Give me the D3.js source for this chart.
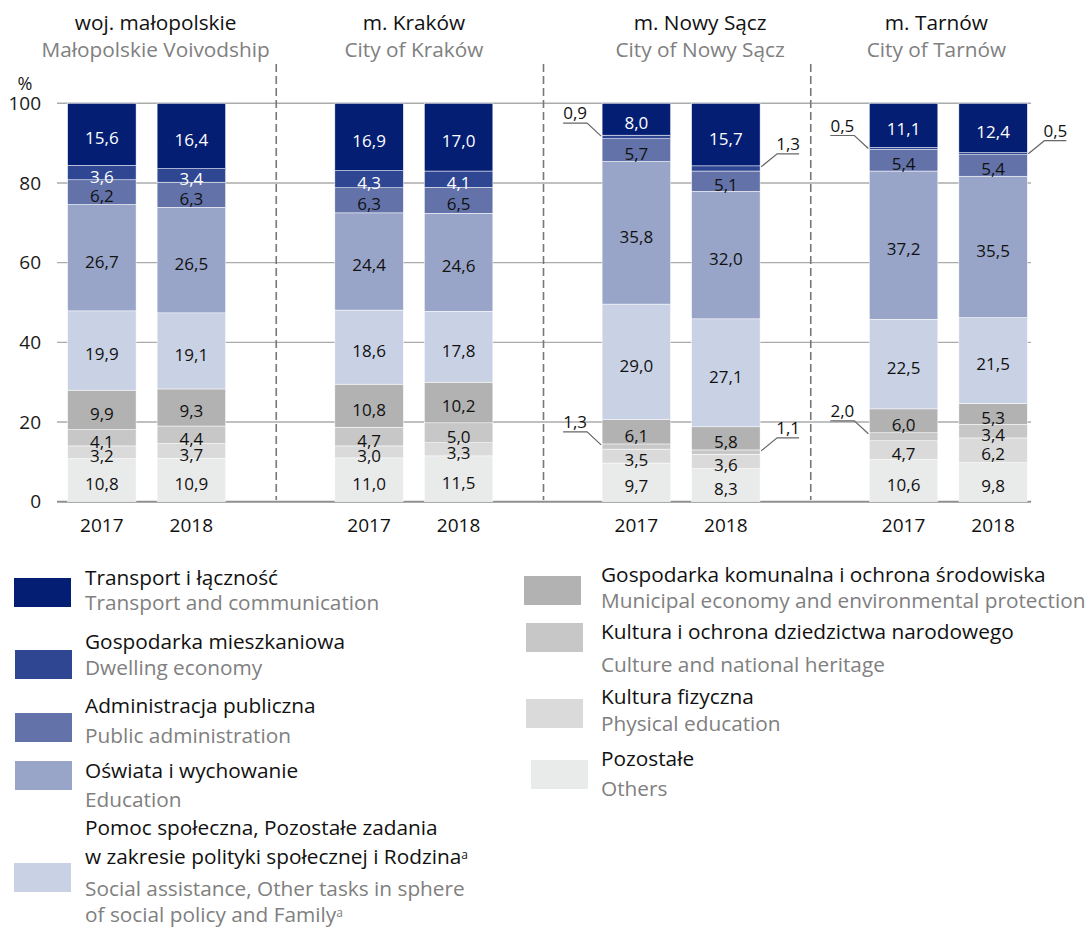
<!DOCTYPE html>
<html>
<head>
<meta charset="utf-8">
<script src="https://cdn.jsdelivr.net/npm/d3@7"></script>
<style>
  body { margin: 0; background: #fff; }
  text { font-family: "Open Sans", sans-serif; }
</style>
</head>
<body>
<div id="chart"></div>
<script>
// regions and years
var regions = ["woj", "krakow", "nowysacz", "tarnow"];
var regionPl = ["woj. małopolskie", "m. Kraków", "m. Nowy Sącz", "m. Tarnów"];
var regionEn = ["Małopolskie Voivodship", "City of Kraków", "City of Nowy Sącz", "City of Tarnów"];
var years = ["2017", "2018"];

// one value per bar: woj 17, woj 18, Kraków 17, Kraków 18, NS 17, NS 18, Tarnów 17, Tarnów 18
var transport   = [15.6, 16.4, 16.9, 17.0, 8.0, 15.7, 11.1, 12.4];
var dwelling    = [3.6, 3.4, 4.3, 4.1, 0.9, 1.3, 0.5, 0.5];
var publicAdmin = [6.2, 6.3, 6.3, 6.5, 5.7, 5.1, 5.4, 5.4];
var education   = [26.7, 26.5, 24.4, 24.6, 35.8, 32.0, 37.2, 35.5];
var social      = [19.9, 19.1, 18.6, 17.8, 29.0, 27.1, 22.5, 21.5];
var municipal   = [9.9, 9.3, 10.8, 10.2, 6.1, 5.8, 6.0, 5.3];
var culture     = [4.1, 4.4, 4.7, 5.0, 1.3, 1.1, 2.0, 3.4];
var physical    = [3.2, 3.7, 3.0, 3.3, 3.5, 3.6, 4.7, 6.2];
var others      = [10.8, 10.9, 11.0, 11.5, 9.7, 8.3, 10.6, 9.8];

var yTicks = [0, 20, 40, 60, 80, 100];

// stacking order bottom -> top
var keys = ["others", "physical", "culture", "municipal", "social", "education", "publicAdmin", "dwelling", "transport"];
var series = {transport: transport, dwelling: dwelling, publicAdmin: publicAdmin, education: education,
  social: social, municipal: municipal, culture: culture, physical: physical, others: others};

var colors = {transport: "#041e74", dwelling: "#2f4692", publicAdmin: "#6373a9", education: "#98a5c8",
  social: "#c9d1e5", municipal: "#b1b2b1", culture: "#c6c7c6", physical: "#d9dad9", others: "#e9eaea"};
var whiteText = {transport: true, dwelling: true};

var legendPl = {
  transport: ["Transport i łączność"],
  dwelling: ["Gospodarka mieszkaniowa"],
  publicAdmin: ["Administracja publiczna"],
  education: ["Oświata i wychowanie"],
  social: ["Pomoc społeczna, Pozostałe zadania", "w zakresie polityki społecznej i Rodzina"],
  municipal: ["Gospodarka komunalna i ochrona środowiska"],
  culture: ["Kultura i ochrona dziedzictwa narodowego"],
  physical: ["Kultura fizyczna"],
  others: ["Pozostałe"]
};
var legendEn = {
  transport: ["Transport and communication"],
  dwelling: ["Dwelling economy"],
  publicAdmin: ["Public administration"],
  education: ["Education"],
  social: ["Social assistance, Other tasks in sphere", "of social policy and Family"],
  municipal: ["Municipal economy and environmental protection"],
  culture: ["Culture and national heritage"],
  physical: ["Physical education"],
  others: ["Others"]
};
var supA = {social: true};

// build rows for the stack
var rows = [];
regions.forEach(function(r, i) {
  years.forEach(function(yr, j) {
    var row = {region: r, year: yr};
    keys.forEach(function(k) { row[k] = series[k][i * 2 + j]; });
    rows.push(row);
  });
});

var width = 1089, height = 928;
var svg = d3.select("#chart").append("svg")
  .attr("width", width)
  .attr("height", height);

var x0 = d3.scaleBand().domain(regions).range([9, 1078]);
var x1 = d3.scaleBand().domain(years).range([58.6, 216.6]).paddingInner(0.235);
var y = d3.scaleLinear().domain([0, 100]).range([501.7, 103.3]);

// gridlines
svg.append("g").selectAll("line")
  .data(yTicks)
  .enter().append("line")
  .attr("x1", 57).attr("x2", 1031)
  .attr("y1", function(d) { return y(d); })
  .attr("y2", function(d) { return y(d); })
  .attr("stroke", function(d) { return d == 0 ? "#8f8f8f" : "#ababab"; })
  .attr("stroke-width", function(d) { return d == 0 ? 2 : 1.4; });

// y labels
svg.append("g").selectAll("text")
  .data(yTicks)
  .enter().append("text")
  .attr("x", 41)
  .attr("y", function(d) { return y(d); })
  .attr("dy", "0.35em")
  .attr("text-anchor", "end")
  .style("font-size", "19px")
  .attr("fill", "#1a1a1a")
  .text(function(d) { return d; });

svg.append("text")
  .attr("x", 25).attr("y", 84).attr("dy", "0.35em")
  .attr("text-anchor", "middle")
  .style("font-size", "18px")
  .attr("fill", "#1a1a1a")
  .text("%");

// dashed dividers between regions
svg.append("g").selectAll("line")
  .data(regions.slice(1))
  .enter().append("line")
  .attr("x1", function(d) { return x0(d); })
  .attr("x2", function(d) { return x0(d); })
  .attr("y1", 64).attr("y2", 500)
  .attr("stroke", "#777")
  .attr("stroke-width", 1.6)
  .attr("stroke-dasharray", "8,4");

// titles
var titleShift = [13, 4, 23, -8];
var titles = svg.append("g");
regions.forEach(function(r, i) {
  var cx = x0(r) + x0.bandwidth() / 2 + titleShift[i];
  titles.append("text")
    .attr("x", cx).attr("y", 23).attr("dy", "0.35em")
    .attr("text-anchor", "middle")
    .style("font-size", "20.8px")
    .attr("fill", "#111")
    .text(regionPl[i]);
  titles.append("text")
    .attr("x", cx).attr("y", 50).attr("dy", "0.35em")
    .attr("text-anchor", "middle")
    .style("font-size", "20.8px")
    .attr("fill", "#808080")
    .text(regionEn[i]);
});

// year labels under bars
svg.append("g").selectAll("text")
  .data(rows)
  .enter().append("text")
  .attr("x", function(d) { return x0(d.region) + x1(d.year) + x1.bandwidth() / 2; })
  .attr("y", 525).attr("dy", "0.35em")
  .attr("text-anchor", "middle")
  .style("font-size", "19px")
  .attr("fill", "#111")
  .text(function(d) { return d.year; });

var stack = d3.stack().keys(keys)(rows);

function barX(d) { return x0(d.data.region) + x1(d.data.year); }

var layers = svg.append("g").selectAll("g")
  .data(stack)
  .enter().append("g")
  .attr("fill", function(d) { return colors[d.key]; });

layers.selectAll("rect")
  .data(function(d) { return d; })
  .enter().append("rect")
  .attr("x", barX)
  .attr("width", x1.bandwidth())
  .attr("y", function(d) { return y(d[1]); })
  .attr("height", function(d) { return y(d[0]) - y(d[1]); })
  .attr("stroke", "#fff")
  .attr("stroke-width", 0.5);

// labels inside / callouts outside
var labels = svg.append("g");
var fmt = function(v) { return v.toFixed(1).replace(".", ","); };

stack.forEach(function(layer) {
  layer.forEach(function(d) {
    var v = d.data[layer.key];
    var bx = barX(d);
    if (v > 2) {
      labels.append("text")
        .attr("x", bx + x1.bandwidth() / 2)
        .attr("y", (y(d[0]) + y(d[1])) / 2 + 4)
        .attr("dy", "0.35em")
        .attr("text-anchor", "middle")
        .style("font-size", "17px")
        .attr("fill", whiteText[layer.key] ? "#fff" : "#111")
        .text(fmt(v));
    } else {
      var left = d.data.year == "2017";
      var ex = left ? bx - 1 : bx + x1.bandwidth() + 1;
      var ey = y(d[1]) + 1;
      var kx = left ? ex - 14 : ex + 16;
      var ky = y(d[1]) - 12;
      var ux = left ? kx - 24 : kx + 22;
      labels.append("polyline")
        .attr("points", [[ex, ey], [kx, ky], [ux, ky]].join(" "))
        .attr("fill", "none")
        .attr("stroke", "#666")
        .attr("stroke-width", 1.2);
      labels.append("text")
        .attr("x", (kx + ux) / 2)
        .attr("y", ky - 4)
        .attr("text-anchor", "middle")
        .style("font-size", "17px")
        .attr("fill", "#111")
        .text(fmt(v));
    }
  });
});

// legend
var legendLeft = ["transport", "dwelling", "publicAdmin", "education", "social"];
var legendRight = ["municipal", "culture", "physical", "others"];
var leftRows = [
  {sx: 14, sy: 578, ty: [578, 603]},
  {sx: 15, sy: 650, ty: [642, 668]},
  {sx: 15, sy: 713, ty: [706, 736]},
  {sx: 15, sy: 761, ty: [771, 800]},
  {sx: 14, sy: 863, ty: [828, 857, 889, 915]}
];
var rightRows = [
  {sx: 524, sy: 576, ty: [575, 601]},
  {sx: 526, sy: 623, ty: [632, 665]},
  {sx: 526, sy: 699, ty: [697, 724]},
  {sx: 531, sy: 760, ty: [759, 789]}
];

function drawLegend(list, pos, tx) {
  var g = svg.append("g");
  list.forEach(function(k, i) {
    var p = pos[i];
    g.append("rect")
      .attr("x", p.sx).attr("y", p.sy)
      .attr("width", 57).attr("height", 29)
      .attr("fill", colors[k]);
    var lines = legendPl[k].map(function(t) { return {t: t, c: "#111"}; })
      .concat(legendEn[k].map(function(t) { return {t: t, c: "#808080"}; }));
    lines.forEach(function(l, j) {
      var t = g.append("text")
        .attr("x", tx).attr("y", p.ty[j]).attr("dy", "0.35em")
        .style("font-size", "20.8px")
        .attr("fill", l.c)
        .text(l.t);
      var last = (j == legendPl[k].length - 1) || (j == lines.length - 1);
      if (supA[k] && last) {
        t.append("tspan")
          .attr("dy", "-0.45em")
          .style("font-size", "12px")
          .text("a");
      }
    });
  });
}
drawLegend(legendLeft, leftRows, 85);
drawLegend(legendRight, rightRows, 601);
</script>
</body>
</html>
